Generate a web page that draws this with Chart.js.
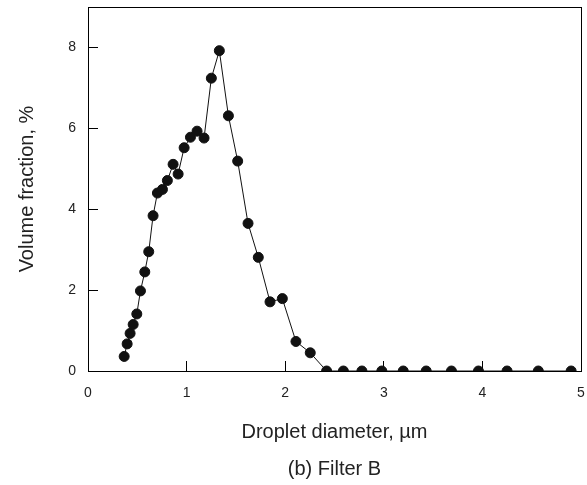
<!DOCTYPE html>
<html>
<head>
<meta charset="utf-8">
<script src="https://cdn.jsdelivr.net/npm/chart.js@4"></script>
<style>
  html, body { margin: 0; padding: 0; background: #fff; }
  #wrap { width: 587px; height: 485px; }
</style>
</head>
<body>
<div id="wrap"><canvas id="dropChart" width="587" height="485"></canvas></div>
<script>
// droplet diameter (um) and volume fraction (%)
const diameters = [0.367, 0.397, 0.427, 0.458, 0.495, 0.532, 0.576, 0.616, 0.660, 0.704,
  0.755, 0.805, 0.863, 0.914, 0.975, 1.039, 1.106, 1.177, 1.251, 1.332,
  1.424, 1.518, 1.623, 1.727, 1.846, 1.971, 2.109, 2.254, 2.420, 2.590,
  2.778, 2.980, 3.197, 3.430, 3.686, 3.960, 4.250, 4.567, 4.900];
const volumeFraction = [0.36, 0.67, 0.93, 1.15, 1.41, 1.98, 2.45, 2.95, 3.84, 4.40,
  4.49, 4.71, 5.11, 4.87, 5.52, 5.78, 5.93, 5.76, 7.24, 7.92,
  6.31, 5.19, 3.65, 2.81, 1.71, 1.79, 0.73, 0.45, 0, 0,
  0, 0, 0, 0, 0, 0, 0, 0, 0];
const xTicks = [0, 1, 2, 3, 4, 5];
const yTicks = [0, 2, 4, 6, 8];
const caption = '(b) Filter B';

const fontName = '"Liberation Sans", Arial, sans-serif';

const points = diameters.map((d, i) => ({ x: d, y: volumeFraction[i] }));

// draws the box around the plot and the caption under the axis title
const framePlugin = {
  id: 'frame',
  afterDraw(chart) {
    const { ctx, chartArea } = chart;
    ctx.save();
    ctx.strokeStyle = '#000';
    ctx.lineWidth = 1;
    ctx.strokeRect(Math.round(chartArea.left) + 0.5, Math.round(chartArea.top) + 0.5,
      Math.round(chartArea.right - chartArea.left), Math.round(chartArea.bottom - chartArea.top));
    ctx.fillStyle = '#222';
    ctx.font = '20px ' + fontName;
    ctx.textAlign = 'center';
    ctx.textBaseline = 'middle';
    ctx.fillText(caption, (chartArea.left + chartArea.right) / 2, 469);
    ctx.restore();
  }
};

const ctx = document.getElementById('dropChart').getContext('2d');
const dropChart = new Chart(ctx, {
  type: 'scatter',
  data: {
    datasets: [{
      data: points,
      showLine: true,
      borderColor: '#111',
      borderWidth: 1,
      backgroundColor: '#111',
      pointBackgroundColor: '#111',
      pointBorderColor: '#111',
      pointRadius: 5,
      pointHoverRadius: 5
    }]
  },
  options: {
    responsive: false,
    animation: false,
    events: [],
    layout: { padding: { top: 7, right: 5, left: 0, bottom: 0 } },
    plugins: {
      legend: { display: false },
      tooltip: { enabled: false }
    },
    scales: {
      x: {
        type: 'linear',
        min: 0,
        max: 5,
        afterFit: (scale) => {
          scale.height = 114;
          scale.paddingLeft = 0;
          scale.paddingRight = 0;
        },
        afterBuildTicks: (scale) => { scale.ticks = xTicks.map(v => ({ value: v })); },
        grid: { drawOnChartArea: false, drawTicks: true, tickLength: -10, color: '#000', lineWidth: 1 },
        border: { color: '#000', width: 1 },
        ticks: { padding: 24, color: '#222', font: { family: fontName, size: 14 }, maxRotation: 0 },
        title: {
          display: true,
          text: 'Droplet diameter, µm',
          color: '#222',
          font: { family: fontName, size: 20 },
          padding: { top: 0, bottom: 41 }
        }
      },
      y: {
        type: 'linear',
        min: 0,
        max: 9,
        afterFit: (scale) => {
          scale.width = 88;
          scale.paddingTop = 0;
          scale.paddingBottom = 0;
        },
        afterBuildTicks: (scale) => { scale.ticks = yTicks.map(v => ({ value: v })); },
        grid: { drawOnChartArea: false, drawTicks: true, tickLength: -10, color: '#000', lineWidth: 1 },
        border: { color: '#000', width: 1 },
        ticks: { padding: 22, color: '#222', font: { family: fontName, size: 14 } },
        title: {
          display: true,
          text: 'Volume fraction, %',
          color: '#222',
          font: { family: fontName, size: 20 },
          padding: { top: 15, bottom: 0 }
        }
      }
    }
  },
  plugins: [framePlugin]
});
</script>
</body>
</html>
